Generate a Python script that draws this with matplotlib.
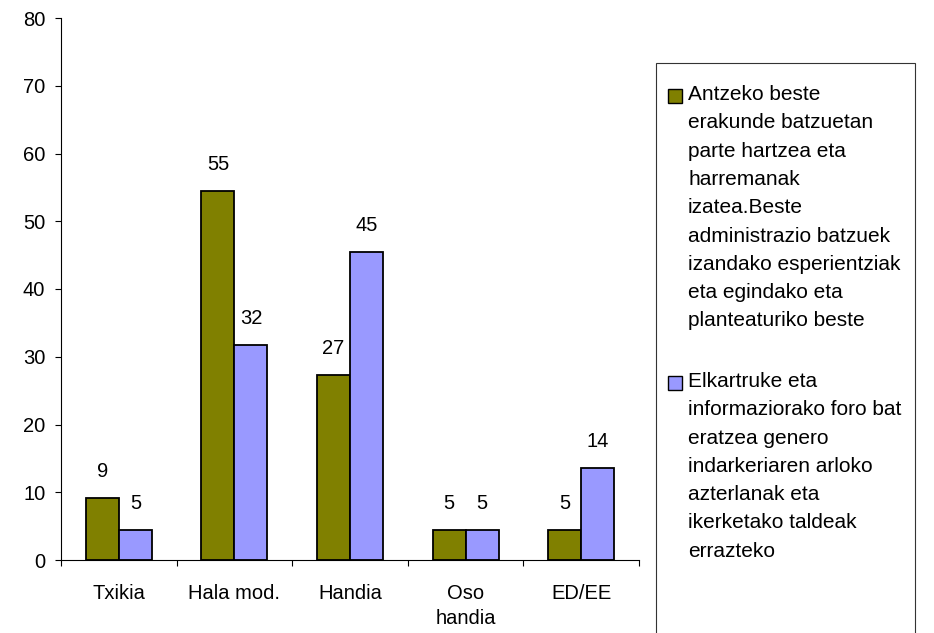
import matplotlib.pyplot as plt
import matplotlib.patches as mpatches
import numpy as np

plt.rcParams['font.family'] = ['Liberation Sans', 'DejaVu Sans']

# Data
categories = ['Txikia', 'Hala mod.', 'Handia', 'Oso\nhandia', 'ED/EE']
series1 = [9.1, 54.5, 27.3, 4.5, 4.5]
series2 = [4.5, 31.8, 45.5, 4.5, 13.6]
labels1 = [9, 55, 27, 5, 5]
labels2 = [5, 32, 45, 5, 14]
legend_labels = [
    'Antzeko beste\nerakunde batzuetan\nparte hartzea eta\nharremanak\nizatea.Beste\n'
    'administrazio batzuek\nizandako esperientziak\neta egindako eta\nplanteaturiko beste',
    'Elkartruke eta\ninformaziorako foro bat\neratzea genero\nindarkeriaren arloko\n'
    'azterlanak eta\nikerketako taldeak\nerrazteko',
]
colors = ['#808000', '#9999FF']

W, H = 934, 633
fs = 14.5
fig = plt.figure(figsize=(W / 100, H / 100), dpi=100)
ax = fig.add_axes([61 / W, 1 - 560 / H, (639 - 61) / W, (560 - 18) / H])

x = np.arange(len(categories))
w = 1 / 3.5
bars1 = ax.bar(x - w / 2, series1, w, color=colors[0], edgecolor='black', linewidth=1.3)
bars2 = ax.bar(x + w / 2, series2, w, color=colors[1], edgecolor='black', linewidth=1.3)

for bars, labs in [(bars1, labels1), (bars2, labels2)]:
    for b, lab in zip(bars, labs):
        ax.annotate(str(lab), (b.get_x() + b.get_width() / 2, b.get_height()),
                    xytext=(0, 19), textcoords='offset points',
                    ha='center', va='center', fontsize=fs)

ax.set_xlim(-0.5, len(categories) - 0.5)
ax.set_ylim(0, 80)
ax.set_yticks(np.arange(0, 81, 10))
ax.tick_params(axis='y', labelsize=fs, length=4.3, width=0.8, pad=7)

ax.set_xticks(np.arange(-0.5, len(categories), 1))
ax.set_xticklabels([])
ax.set_xticks(x, minor=True)
ax.set_xticklabels(categories, minor=True, fontsize=fs, linespacing=1.45)
ax.tick_params(axis='x', which='major', length=4.3, width=0.8)
ax.tick_params(axis='x', which='minor', length=0, pad=17)

for s in ['top', 'right']:
    ax.spines[s].set_visible(False)
for s in ['left', 'bottom']:
    ax.spines[s].set_linewidth(0.8)

# Legend box (runs off the bottom of the image)
fig.patches.append(mpatches.Rectangle((656 / W, -0.05), (915 - 656) / W, 0.05 + 1 - 63 / H,
                                      transform=fig.transFigure, fill=False,
                                      edgecolor='#333333', linewidth=0.8))
tops = [87, 374]
for lab, col, top in zip(legend_labels, colors, tops):
    fig.patches.append(mpatches.Rectangle((668 / W, 1 - (top + 16) / H), 14 / W, 14 / H,
                                          transform=fig.transFigure, facecolor=col,
                                          edgecolor='black', linewidth=1.0))
    fig.text(688 / W, 1 - (top - 2) / H, lab, ha='left', va='top', fontsize=15,
             linespacing=1.62)

fig.savefig('out.png', dpi=100)
